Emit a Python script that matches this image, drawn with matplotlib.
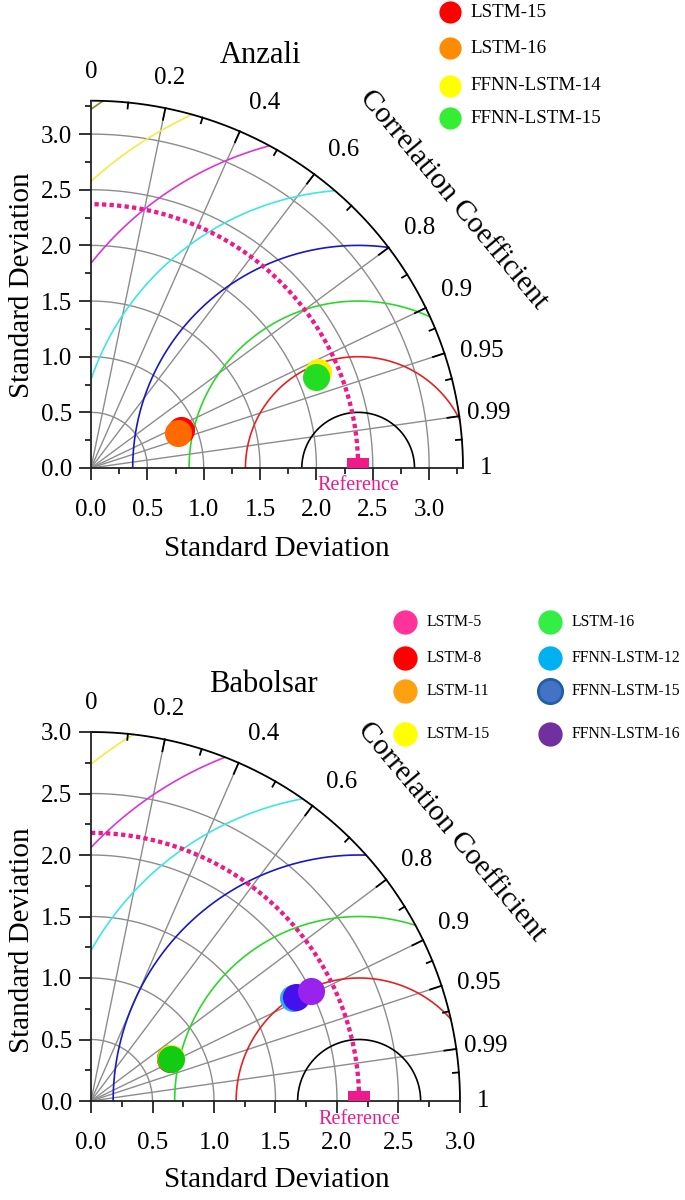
import numpy as np
import matplotlib
matplotlib.use("Agg")
import matplotlib.pyplot as plt
from matplotlib.lines import Line2D
from matplotlib.patches import Rectangle

plt.rcParams['font.family'] = ['Liberation Serif', 'DejaVu Serif']

# ---------------- data ----------------
anzali_models = ["LSTM-15", "LSTM-16", "FFNN-LSTM-14", "FFNN-LSTM-15"]
anzali_std = [0.866, 0.837, 2.187, 2.157]
anzali_corr = [0.919, 0.926, 0.9195, 0.9254]
anzali_ref_std = 2.37
anzali_max_std = 3.3

babolsar_models = ["LSTM-5", "LSTM-8", "LSTM-11", "LSTM-15", "LSTM-16",
                   "FFNN-LSTM-12", "FFNN-LSTM-15", "FFNN-LSTM-16"]
babolsar_std = [0.729, 0.732, 0.733, 0.738, 0.738, 1.841, 1.866, 2.004]
babolsar_corr = [0.877, 0.882, 0.876, 0.880, 0.885, 0.890, 0.891, 0.894]
babolsar_ref_std = 2.18
babolsar_max_std = 3.0

corr_label_values = [0, 0.2, 0.4, 0.6, 0.8, 0.9, 0.95, 0.99, 1]
corr_label_texts = ["0", "0.2", "0.4", "0.6", "0.8", "0.9", "0.95", "0.99", "1"]
corr_grid_values = [0.2, 0.4, 0.6, 0.8, 0.9, 0.95, 0.99]
corr_minor_values = [0.1, 0.3, 0.5, 0.7, 0.85, 0.925, 0.97, 0.997]
rms_levels = [0.5, 1.0, 1.5, 2.0, 2.5, 3.0, 3.5, 4.0]

# ---------------- styles ----------------
rms_colors = ['black', '#e42222', '#2ad82a', '#1818c4', '#3ee6e6', '#dc34dc', '#eeee44', '#8a8a22']
anzali_plot_colors = ['#ff0000', '#ff6a00', '#ffee00', '#22dd22']
anzali_leg_colors = ['#ff0000', '#ff8c00', '#ffff00', '#33ee33']
anzali_leg_edges = [None, None, None, None]
babolsar_plot_colors = ['#ff3399', '#ff0000', '#ffa000', '#ffff00', '#11cc11',
                        '#33aaf0', '#4411ee', '#9922ee']
babolsar_leg_colors = ['#ff3399', '#ff0000', '#ffa010', '#ffff00', '#33ee44',
                       '#00b0f0', '#4472c4', '#7030a0']
babolsar_leg_edges = [None, None, None, None, None, None, '#1f5fa8', None]
# label placement: (angle in degrees from the x axis, radius factor)
corr_label_pos = [(89.9, 1.078), (78.8, 1.083), (64.8, 1.098), (51.9, 1.10),
                  (36.5, 1.098), (26.2, 1.095), (16.9, 1.098), (8.0, 1.079), (0.0, 1.063)]
PINK = '#ee1a8a'
GRAY = '#8c8c8c'

W, H = 685, 1200
fig = plt.figure(figsize=(W / 100, H / 100), dpi=100)


def px2fig(x, y):
    return x / W, 1 - y / H


def taylor(ax_rect_px, R, ref, stds, corrs, colors, title, title_xy):
    x0, y0, x1, y1 = ax_rect_px  # origin px and (R,R) px
    ax = fig.add_axes([x0 / W, 1 - y0 / H, (x1 - x0) / W, (y0 - y1) / H])
    ax.set_xlim(0, R)
    ax.set_ylim(0, R)
    scale = (x1 - x0) / R
    for s in ['top', 'right']:
        ax.spines[s].set_visible(False)
    for s in ['left', 'bottom']:
        ax.spines[s].set_linewidth(1.3)
        ax.spines[s].set_color('#222222')
        ax.spines[s].set_zorder(6)
    major = np.arange(0, R + 1e-6, 0.5)
    minor = np.arange(0.25, R + 1e-6, 0.5)
    ax.set_xticks(major)
    ax.set_yticks(major)
    ax.set_xticks(minor, minor=True)
    ax.set_yticks(minor, minor=True)
    ax.set_xticklabels([f"{v:.1f}" for v in major])
    ax.set_yticklabels([f"{v:.1f}" for v in major])
    ax.tick_params(which='major', direction='out', length=8.6, width=1.3,
                   labelsize=18, color='#222222')
    ax.tick_params(which='minor', direction='out', length=4.3, width=1.3, color='#222222')
    ax.tick_params(axis='x', which='major', pad=14)
    ax.tick_params(axis='y', which='major', pad=5)
    ax.patch.set_visible(False)

    t = np.linspace(0, np.pi / 2, 400)
    # std grid circles
    for r in major[1:]:
        if r < R - 1e-6:
            ax.plot(r * np.cos(t), r * np.sin(t), color=GRAY, lw=1.0, zorder=1)
    # correlation radial lines
    for c in corr_grid_values:
        a = np.arccos(c)
        ax.plot([0, R * np.cos(a)], [0, R * np.sin(a)], color=GRAY, lw=1.0, zorder=1)
    # outer arc
    ax.plot(R * np.cos(t), R * np.sin(t), color='black', lw=1.3, zorder=4, clip_on=False)
    # arc ticks
    for c, ln in [(v, 12) for v in corr_grid_values] + [(v, 6) for v in corr_minor_values]:
        a = np.arccos(c)
        L = ln / scale
        ax.plot([(R - L) * np.cos(a), R * np.cos(a)], [(R - L) * np.sin(a), R * np.sin(a)],
                color='black', lw=1.3, zorder=4, clip_on=False)
    # correlation labels
    for txt, (ang, f) in zip(corr_label_texts, corr_label_pos):
        a = np.deg2rad(ang)
        ax.text(f * R * np.cos(a), f * R * np.sin(a), txt, fontsize=18,
                ha='center', va='center', clip_on=False)
    # RMS arcs centred on the reference
    tt = np.linspace(0, np.pi, 2000)
    for r, col in zip(rms_levels, rms_colors):
        xx = ref + r * np.cos(tt)
        yy = r * np.sin(tt)
        m = (xx >= 0) & (xx ** 2 + yy ** 2 <= R ** 2)
        if m.any():
            ax.plot(xx[m], yy[m], color=col, lw=1.2, zorder=2)
    # reference arc (dotted)
    rh = 10 / scale
    a_end = np.arcsin(rh / ref)
    ta = np.linspace(a_end, np.pi / 2, 400)
    ax.plot(ref * np.cos(ta), ref * np.sin(ta), color=PINK, lw=3.1,
            linestyle=(0, (1, 0.75)), zorder=3)
    rw = 22 / scale
    ax.add_patch(Rectangle((ref - rw / 2, 0), rw, rh, facecolor=PINK, edgecolor='none',
                           zorder=7, clip_on=False))
    ax.text(ref, -18 / scale, "Reference", color=PINK, fontsize=14.5,
            ha='center', va='center', clip_on=False)
    # model points
    for s, c, col in zip(stds, corrs, colors):
        ax.plot([s * c], [s * np.sqrt(1 - c ** 2)], 'o', ms=19.5, color=col, mew=0,
                zorder=8, clip_on=False)
    # labels
    ax.set_xlabel("Standard Deviation", fontsize=21, va='center')
    ax.set_ylabel("Standard Deviation", fontsize=21, va='center')
    ax.xaxis.set_label_coords(0.5, -81 / (y0 - y1))
    fx, fy = px2fig(*title_xy)
    fig.text(fx, fy, title, fontsize=22, ha='center', va='baseline')
    return ax, scale


def legend(items, colors, edges, xs_marker, xs_text, ys, ms, fs):
    for name, col, ec, xm, xt, y in zip(items, colors, edges, xs_marker, xs_text, ys):
        fx, fy = px2fig(xm, y)
        fig.add_artist(Line2D([fx], [fy], transform=fig.transFigure, marker='o', ms=ms,
                              color=col, mec=ec if ec else col, mew=2 if ec else 0,
                              linestyle='none'))
        fx, fy = px2fig(xt, y)
        fig.text(fx, fy, name, fontsize=fs, ha='left', va='center')


# ---- Anzali ----
axA, sA = taylor((91, 468, 463, 100.7), anzali_max_std, anzali_ref_std,
                 anzali_std, anzali_corr, anzali_plot_colors, "Anzali", (261, 63))
axA.yaxis.set_label_coords(-69 / 372, (468 - 285) / 367.3)
fx, fy = px2fig(453, 200)
fig.text(fx, fy, "Correlation Coefficient", fontsize=21.5, rotation=-50,
         ha='center', va='center', rotation_mode='anchor')
legend(anzali_models, anzali_leg_colors, anzali_leg_edges,
       [450] * 4, [470] * 4, [12.3, 48.3, 86, 118.3], 16, 13.7)

# ---- Babolsar ----
axB, sB = taylor((91, 1101, 460, 732), babolsar_max_std, babolsar_ref_std,
                 babolsar_std, babolsar_corr, babolsar_plot_colors, "Babolsar", (263, 692))
axB.yaxis.set_label_coords(-69 / 369, (1101 - 940) / 369)
axB.xaxis.set_label_coords((277 - 91) / 369, -79 / 369)
fx, fy = px2fig(451, 832)
fig.text(fx, fy, "Correlation Coefficient", fontsize=21.5, rotation=-50,
         ha='center', va='center', rotation_mode='anchor')
legend(babolsar_models, babolsar_leg_colors, babolsar_leg_edges,
       [405.3] * 4 + [550] * 4, [426.7] * 4 + [571.7] * 4,
       [621.7, 658.3, 690.7, 734.3] * 2, 17.5, 11.3)

fig.savefig("out.png", dpi=100)
